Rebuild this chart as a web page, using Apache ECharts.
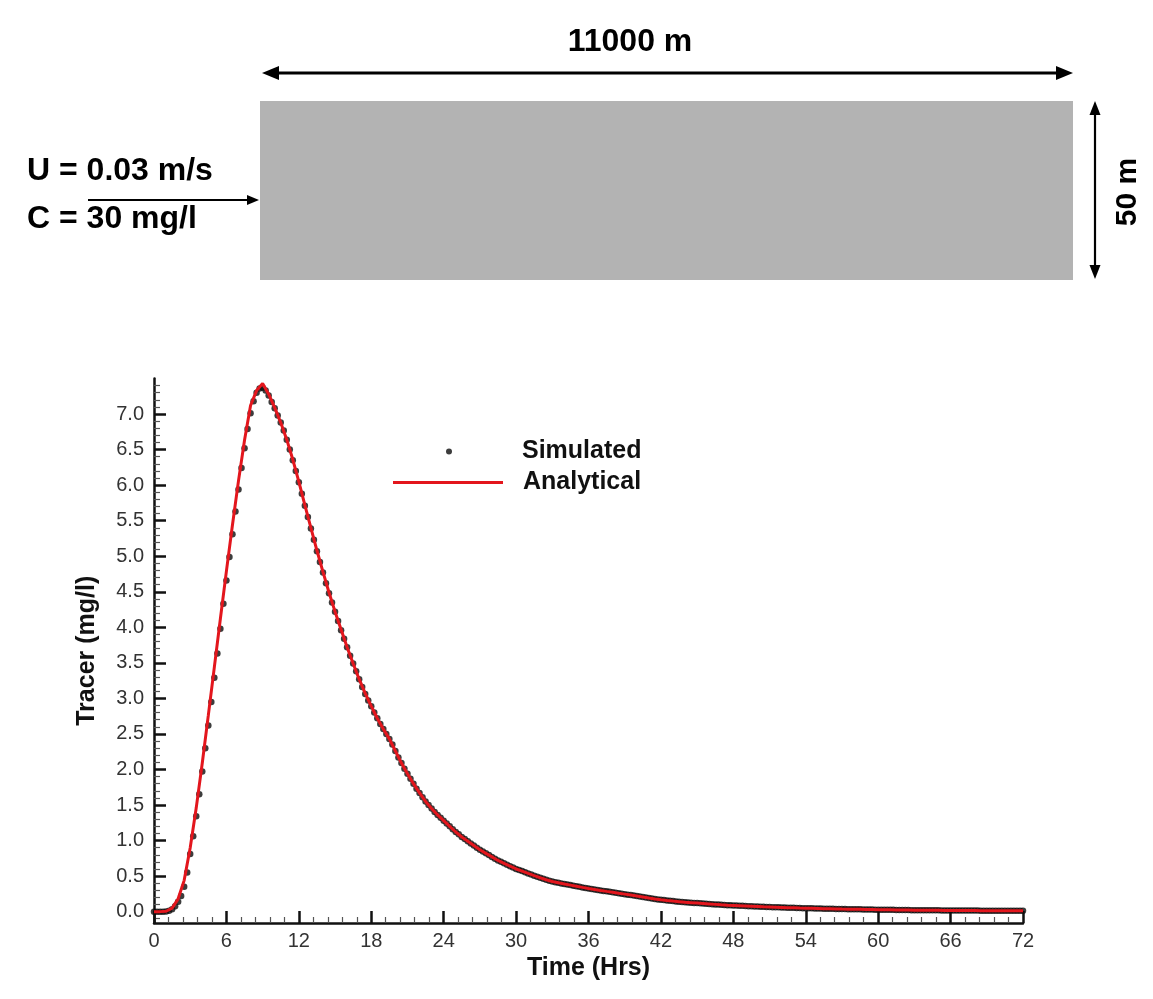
<!DOCTYPE html>
<html>
<head>
<meta charset="utf-8">
<script src="https://cdn.jsdelivr.net/npm/echarts@6/dist/echarts.min.js"></script>
<style>
html,body{margin:0;padding:0;background:#fff;}
#chart{width:1153px;height:999px;}
</style>
</head>
<body>
<div id="chart"></div>
<script>
// ---------------- data ----------------
// Simulated tracer (mg/l), one value every 0.25 h from 0 to 72 h
const simStep = 0.25;
const simulated = [
  0, 0, 0, 0,
  0.002, 0.012, 0.035, 0.075,
  0.14, 0.22, 0.35, 0.55,
  0.81, 1.06, 1.34, 1.65,
  1.97, 2.30, 2.62, 2.95,
  3.29, 3.63, 3.98, 4.33,
  4.66, 4.99, 5.31, 5.63,
  5.94, 6.24, 6.52, 6.79,
  7.01, 7.18, 7.30, 7.36,
  7.37, 7.33, 7.26, 7.17,
  7.08, 6.98, 6.88, 6.77,
  6.64, 6.50, 6.35, 6.20,
  6.04, 5.88, 5.71, 5.55,
  5.39, 5.23, 5.07, 4.92,
  4.77, 4.62, 4.48, 4.35,
  4.22, 4.09, 3.96, 3.84,
  3.72, 3.60, 3.49, 3.38,
  3.27, 3.16, 3.06, 2.97,
  2.89, 2.80, 2.72, 2.64,
  2.57, 2.50, 2.43, 2.35,
  2.26, 2.17, 2.09, 2.01,
  1.94, 1.87, 1.80, 1.73,
  1.67, 1.61, 1.55, 1.50,
  1.45, 1.40, 1.36, 1.32,
  1.28, 1.24, 1.20, 1.16,
  1.12, 1.09, 1.05, 1.02,
  0.99, 0.96, 0.93, 0.90,
  0.87, 0.845, 0.82, 0.795,
  0.77, 0.745, 0.72, 0.70,
  0.68, 0.66, 0.64, 0.62,
  0.60, 0.585, 0.57, 0.553,
  0.537, 0.521, 0.506, 0.491,
  0.477, 0.463, 0.449, 0.436,
  0.423, 0.415, 0.406, 0.397,
  0.389, 0.381, 0.373, 0.365,
  0.357, 0.349, 0.341, 0.333,
  0.326, 0.319, 0.312, 0.305,
  0.298, 0.291, 0.285, 0.279,
  0.273, 0.266, 0.259, 0.253,
  0.246, 0.239, 0.233, 0.226,
  0.219, 0.212, 0.205, 0.198,
  0.191, 0.185, 0.178, 0.172,
  0.167, 0.162, 0.157, 0.152,
  0.148, 0.144, 0.140, 0.136,
  0.132, 0.129, 0.126, 0.123,
  0.120, 0.117, 0.114, 0.111,
  0.108, 0.105, 0.102, 0.099,
  0.096, 0.093, 0.091, 0.089,
  0.087, 0.085, 0.083, 0.081,
  0.079, 0.077, 0.075, 0.073,
  0.071, 0.069, 0.067, 0.066,
  0.064, 0.063, 0.061, 0.060,
  0.058, 0.057, 0.055, 0.054,
  0.053, 0.052, 0.050, 0.049,
  0.048, 0.047, 0.046, 0.045,
  0.044, 0.043, 0.042, 0.041,
  0.040, 0.039, 0.038, 0.037,
  0.036, 0.036, 0.035, 0.034,
  0.033, 0.033, 0.032, 0.031,
  0.030, 0.030, 0.029, 0.028,
  0.028, 0.027, 0.026, 0.026,
  0.025, 0.025, 0.024, 0.023,
  0.023, 0.022, 0.022, 0.021,
  0.021, 0.020, 0.020, 0.019,
  0.019, 0.019, 0.018, 0.018,
  0.018, 0.017, 0.017, 0.017,
  0.016, 0.016, 0.016, 0.016,
  0.015, 0.015, 0.015, 0.015,
  0.015, 0.015, 0.014, 0.014,
  0.014, 0.014, 0.014, 0.014,
  0.014, 0.014, 0.014, 0.014,
  0.014, 0.014, 0.014, 0.014,
  0.014
];
// Analytical tracer (mg/l), one value every 0.5 h from 0 to 72 h
const anaStep = 0.5;
const analytical = [
  0, 0, 0.005, 0.05, 0.18, 0.44, 0.90, 1.46, 2.09, 2.76,
  3.44, 4.12, 4.79, 5.44, 6.06, 6.63, 7.12, 7.33, 7.43, 7.28,
  7.09, 6.88, 6.64, 6.36, 6.05, 5.72, 5.40, 5.08, 4.78, 4.49,
  4.22, 3.97, 3.72, 3.49, 3.27, 3.07, 2.89, 2.72, 2.57, 2.43,
  2.26, 2.09, 1.94, 1.80, 1.67, 1.55, 1.45, 1.36, 1.28, 1.20,
  1.12, 1.05, 0.99, 0.93, 0.87, 0.82, 0.77, 0.72, 0.68, 0.64,
  0.60, 0.57, 0.537, 0.506, 0.477, 0.449, 0.423, 0.406, 0.389, 0.373,
  0.357, 0.341, 0.326, 0.312, 0.298, 0.285, 0.273, 0.259, 0.246, 0.233,
  0.219, 0.205, 0.191, 0.178, 0.167, 0.157, 0.148, 0.140, 0.132, 0.126,
  0.120, 0.114, 0.108, 0.102, 0.096, 0.091, 0.087, 0.083, 0.079, 0.075,
  0.071, 0.067, 0.064, 0.061, 0.058, 0.055, 0.053, 0.050, 0.048, 0.046,
  0.044, 0.042, 0.040, 0.038, 0.036, 0.035, 0.033, 0.032, 0.030, 0.029,
  0.028, 0.026, 0.025, 0.024, 0.023, 0.022, 0.021, 0.020, 0.019, 0.018,
  0.018, 0.017, 0.016, 0.016, 0.015, 0.015, 0.015, 0.014, 0.014, 0.014,
  0.014, 0.014, 0.014, 0.014, 0.014
];
const yTickValues = [0, 0.5, 1, 1.5, 2, 2.5, 3, 3.5, 4, 4.5, 5, 5.5, 6, 6.5, 7];
const xTickLabels = [0, 6, 12, 18, 24, 30, 36, 42, 48, 54, 60, 66, 72];
const seriesNames = ['Simulated', 'Analytical'];
const axisNames = { x: 'Time (Hrs)', y: 'Tracer (mg/l)' };
const diagramTexts = { length: '11000 m', depth: '50 m', velocity: 'U = 0.03 m/s', conc: 'C = 30 mg/l' };

// ---------------- build ----------------
const simData = simulated.map((v, i) => [i * simStep, v]);
const anaData = analytical.map((v, i) => [i * anaStep, v]);
const yMinor = [];
for (let k = -1; k <= 74; k++) { if (k % 5 !== 0) yMinor.push(k / 10); }

const FONT = "'Liberation Sans', Arial, sans-serif";
const Y_MIN = -0.16, Y_MAX = 7.5;

const chart = echarts.init(document.getElementById('chart'), null, { renderer: 'canvas' });

function arrowHead(tip, dir, len, half) {
  const bx = tip[0] - dir[0] * len, by = tip[1] - dir[1] * len;
  return [[tip[0], tip[1]], [bx - dir[1] * half, by + dir[0] * half], [bx + dir[1] * half, by - dir[0] * half]];
}

const black = '#000';
const graphics = [
  { type: 'rect', shape: { x: 260, y: 101, width: 813, height: 179 }, style: { fill: '#b3b3b3' }, z: 1 },
  // horizontal double arrow
  { type: 'line', shape: { x1: 272, y1: 73, x2: 1063, y2: 73 }, style: { stroke: black, lineWidth: 3 } },
  { type: 'polygon', shape: { points: arrowHead([262, 73], [-1, 0], 17, 7) }, style: { fill: black } },
  { type: 'polygon', shape: { points: arrowHead([1073, 73], [1, 0], 17, 7) }, style: { fill: black } },
  // vertical double arrow
  { type: 'line', shape: { x1: 1095, y1: 110, x2: 1095, y2: 270 }, style: { stroke: black, lineWidth: 2.2 } },
  { type: 'polygon', shape: { points: arrowHead([1095, 101], [0, -1], 14, 5.5) }, style: { fill: black } },
  { type: 'polygon', shape: { points: arrowHead([1095, 279], [0, 1], 14, 5.5) }, style: { fill: black } },
  // inlet arrow
  { type: 'line', shape: { x1: 88, y1: 200, x2: 250, y2: 200 }, style: { stroke: black, lineWidth: 2 } },
  { type: 'polygon', shape: { points: arrowHead([259, 200], [1, 0], 12, 5) }, style: { fill: black } },
  // texts
  { type: 'text', x: 630, y: 42, style: { text: diagramTexts.length, font: 'bold 32px ' + FONT, fill: black, align: 'center', verticalAlign: 'middle' } },
  { type: 'text', x: 1128, y: 192, rotation: Math.PI / 2, style: { text: diagramTexts.depth, font: 'bold 30px ' + FONT, fill: black, align: 'center', verticalAlign: 'middle' } },
  { type: 'text', x: 27, y: 171, style: { text: diagramTexts.velocity, font: 'bold 32px ' + FONT, fill: black, align: 'left', verticalAlign: 'middle' } },
  { type: 'text', x: 27, y: 219, style: { text: diagramTexts.conc, font: 'bold 32px ' + FONT, fill: black, align: 'left', verticalAlign: 'middle' } }
];

const option = {
  backgroundColor: '#fff',
  animation: false,
  graphic: graphics,
  grid: { left: 154, right: 130, top: 378.5, bottom: 76, containLabel: false },
  legend: [
    {
      data: [{ name: seriesNames[0], icon: 'circle' }],
      left: 441, top: 434, itemWidth: 136, itemHeight: 6,
      textStyle: { fontFamily: FONT, fontWeight: 'bold', fontSize: 25, color: '#111' },
      selectedMode: false
    },
    {
      data: [{ name: seriesNames[1], icon: 'rect' }],
      left: 388, top: 465, itemWidth: 110, itemHeight: 3,
      textStyle: { fontFamily: FONT, fontWeight: 'bold', fontSize: 25, color: '#111', padding: [0, 0, 0, 15] },
      selectedMode: false
    }
  ],
  xAxis: {
    type: 'value', min: 0, max: 72, interval: 6,
    name: axisNames.x, nameLocation: 'middle', nameGap: 30,
    nameTextStyle: { fontFamily: FONT, fontWeight: 'bold', fontSize: 25, color: '#111' },
    axisLine: { onZero: false, lineStyle: { color: '#111', width: 2.5 } },
    axisTick: { inside: true, length: 12, lineStyle: { color: '#111', width: 2.5 } },
    minorTick: { show: true, splitNumber: 5, length: 6, lineStyle: { color: '#555', width: 1.2 } },
    axisLabel: { fontFamily: FONT, fontSize: 20, color: '#333', margin: 8, formatter: v => xTickLabels.includes(v) ? String(v) : '' },
    splitLine: { show: false }
  },
  yAxis: [
    {
      type: 'value', min: Y_MIN, max: Y_MAX,
      name: axisNames.y, nameLocation: 'middle', nameGap: 54,
      nameTextStyle: { fontFamily: FONT, fontWeight: 'bold', fontSize: 25, color: '#111' },
      axisLine: { onZero: false, lineStyle: { color: '#111', width: 2.5 } },
      axisTick: { inside: true, length: 12, customValues: yTickValues, lineStyle: { color: '#111', width: 2.5 } },
      axisLabel: { customValues: yTickValues, fontFamily: FONT, fontSize: 20, color: '#333', margin: 10, formatter: v => v.toFixed(1) },
      splitLine: { show: false }
    },
    {
      type: 'value', min: Y_MIN, max: Y_MAX, position: 'left',
      axisLine: { show: false, onZero: false },
      axisTick: { show: true, inside: true, length: 6, customValues: yMinor, lineStyle: { color: '#555', width: 1.2 } },
      axisLabel: { show: false },
      splitLine: { show: false }
    }
  ],
  series: [
    {
      name: seriesNames[0], type: 'scatter', data: simData, symbol: 'circle', symbolSize: 6.5,
      itemStyle: { color: '#0d0d0d' }, z: 2
    },
    {
      name: seriesNames[1], type: 'line', data: anaData, symbol: 'none',
      lineStyle: { color: '#e3161d', width: 3 }, itemStyle: { color: '#e3161d' }, z: 3
    }
  ]
};
chart.setOption(option);
</script>
</body>
</html>
